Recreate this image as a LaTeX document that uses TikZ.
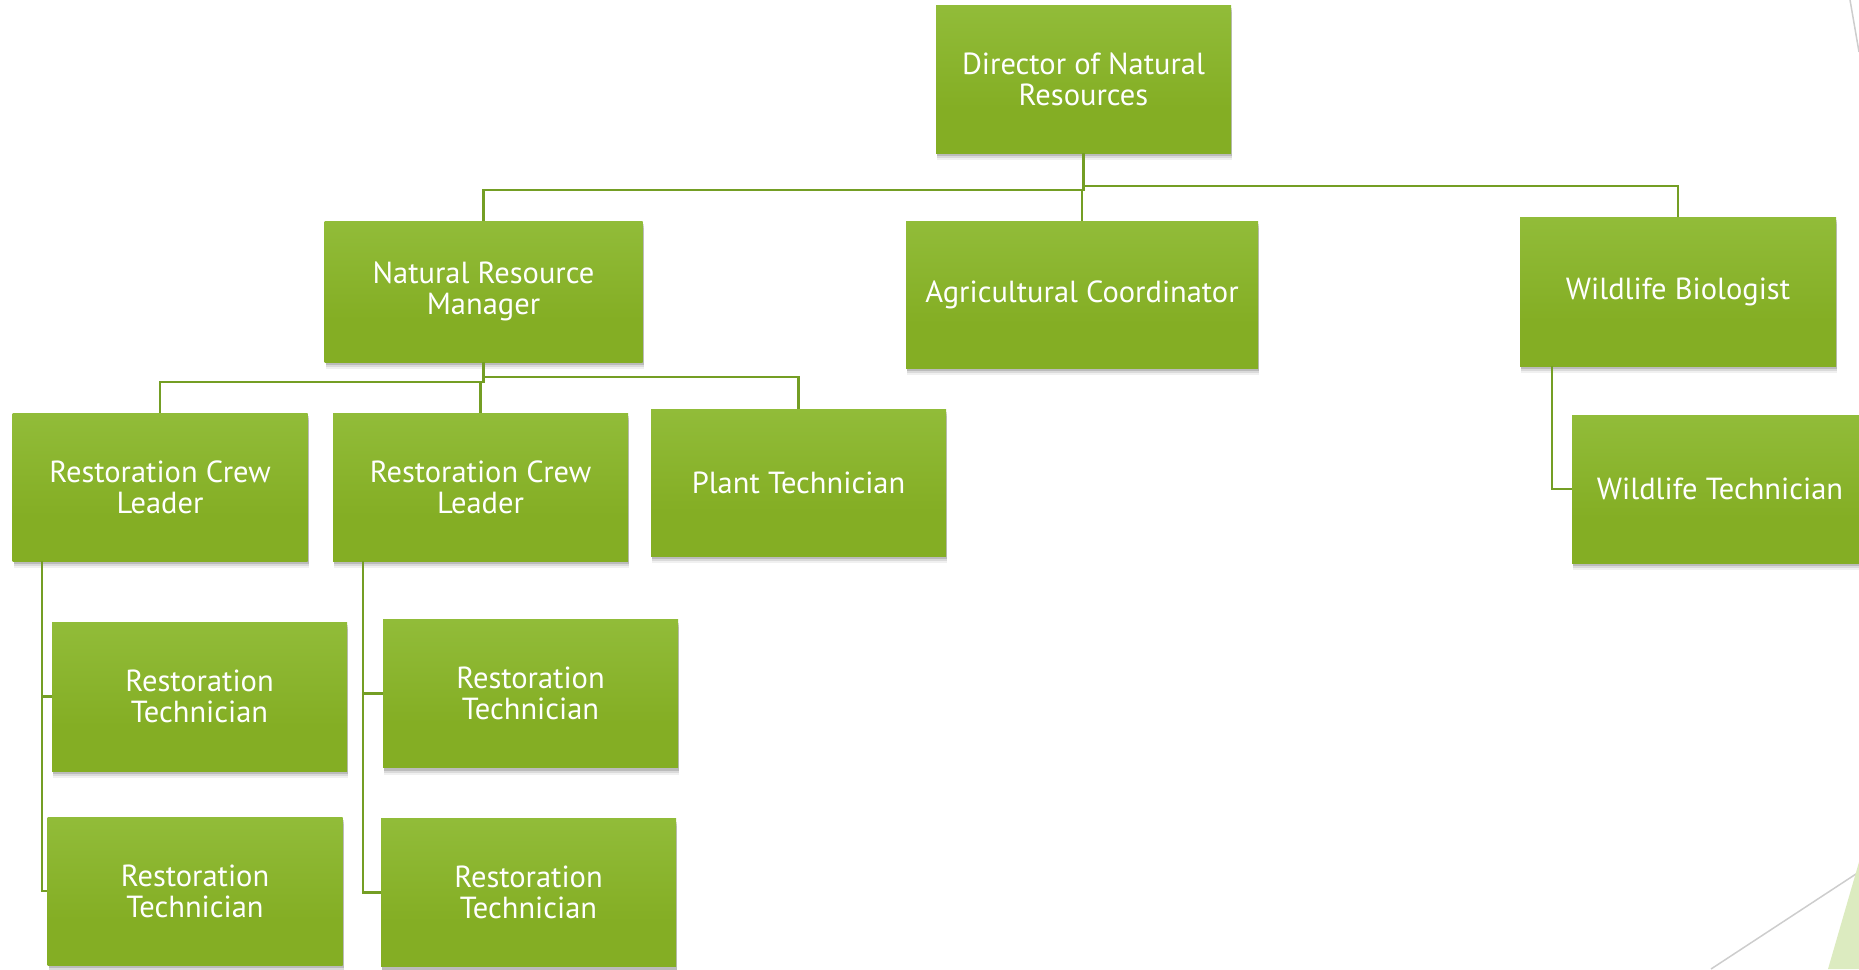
\documentclass[tikz,border=0pt]{standalone}
\usepackage{fontspec}
\setmainfont{PT Sans}
\usetikzlibrary{shadows}
\definecolor{gtop}{RGB}{155,198,72}
\definecolor{gbot}{RGB}{132,174,36}
\definecolor{linkc}{RGB}{116,158,36}
\definecolor{decogreen}{RGB}{220,235,192}
\definecolor{decogray}{RGB}{205,205,205}
\pgfdeclareverticalshading{boxgrad}{100bp}{color(0bp)=(gbot); color(40bp)=(gbot); color(100bp)=(gtop)}
\begin{document}
\begin{tikzpicture}[x=1pt,y=-1pt,
  box/.style={rectangle, shade, shading=boxgrad, text=white, align=center, inner sep=0pt,
    minimum width=295pt, minimum height=148pt, font=\fontsize{30.5}{31}\selectfont,
    drop shadow={shadow xshift=1pt, shadow yshift=-7pt, opacity=0.06, fill=black},
    drop shadow={shadow xshift=1pt, shadow yshift=-5pt, opacity=0.09, fill=black},
    drop shadow={shadow xshift=1pt, shadow yshift=-3pt, opacity=0.14, fill=black}},
  link/.style={draw=linkc, line width=2.5pt}]
\useasboundingbox (0,0) rectangle (1859,969);

\node[box, minimum width=295pt, minimum height=148pt] (dir) at (1083.5,79) {Director of Natural\\Resources};
\node[box, minimum width=318pt, minimum height=141pt] (nrm) at (483.5,291.5) {Natural Resource\\Manager};
\node[box, minimum width=352pt, minimum height=147pt] (ag) at (1082,294.5) {Agricultural Coordinator};
\node[box, minimum width=316pt, minimum height=149pt] (wb) at (1678,291.5) {Wildlife Biologist};
\node[box, minimum width=296pt, minimum height=148pt] (wt) at (1720,489) {Wildlife Technician};
\node[box] (rcla) at (160,487) {Restoration Crew\\Leader};
\node[box] (rclb) at (480.5,487) {Restoration Crew\\Leader};
\node[box, minimum height=147pt] (pt) at (798.5,482.5) {Plant Technician};
\node[box, minimum height=149pt] (rtaa) at (199.5,696.5) {Restoration\\Technician};
\node[box] (rtab) at (195,891) {Restoration\\Technician};
\node[box] (rtba) at (530.5,693.5) {Restoration\\Technician};
\node[box] (rtbb) at (528.5,892.5) {Restoration\\Technician};

% connectors
\draw[link] (dir.south) -- ([yshift=-37pt]dir.south) -| (nrm.north);
\draw[link] ([yshift=-33pt]dir.south) -| (wb.north);
\draw[link] (ag.north) -- ([yshift=31pt]ag.north);
\draw[link] (nrm.south) -- ([yshift=-20pt]nrm.south) -| (rcla.north);
\draw[link] ([yshift=-15pt]nrm.south) -| (pt.north);
\draw[link] (rclb.north) -- ([yshift=31pt]rclb.north);
\draw[link] ([xshift=29.5pt]rcla.south west) |- (rtaa.west);
\draw[link] ([xshift=29.5pt]rcla.south west) |- (rtab.west);
\draw[link] ([xshift=30pt]rclb.south west) |- (rtba.west);
\draw[link] ([xshift=30pt]rclb.south west) |- (rtbb.west);
\draw[link] ([xshift=32pt]wb.south west) |- (wt.west);

% decoration
\draw[decogray, line width=1.5pt] (1850,0) -- (1859,52);
\draw[decogray, line width=1.5pt] (1711,969) -- (1859,872);
\fill[decogreen] (1859,862) -- (1828,969) -- (1859,969) -- cycle;
\end{tikzpicture}
\end{document}
